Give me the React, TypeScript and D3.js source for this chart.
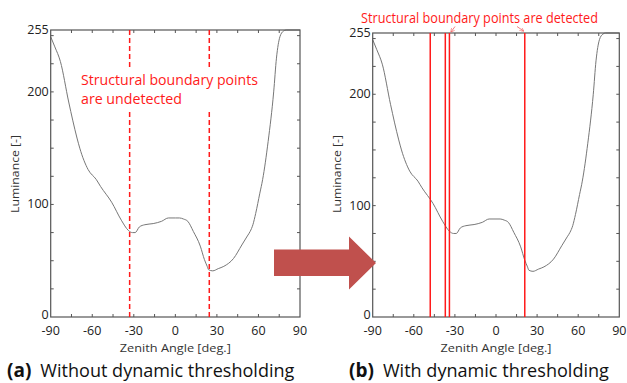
import { useEffect, useRef } from "react";
import * as d3 from "d3";

// luminance profile along the zenith angle
const angles = [-90, -87, -83, -77, -71, -69, -63, -57, -54, -46, -39, -34, -31, -29, -26, -22, -16, -10, -5, 0, 3, 6, 9, 13, 18, 21, 23, 24, 27, 31, 35, 42, 48, 52, 54, 56, 58, 61, 63, 67, 71, 73, 75.5, 78, 80, 90];
const luminance = [249, 240, 227, 191, 159, 150, 131, 122, 116, 102, 86, 77, 75, 75, 80, 82, 83, 85, 88, 88, 88, 87, 85, 76, 63, 51, 45, 42, 41, 43, 45, 52, 64, 72, 76, 82, 92, 110, 122, 156, 200, 230, 249, 254, 255, 255];

const xTickLabels = [-90, -60, -30, 0, 30, 60, 90];
const yTickLabels = [0, 100, 200, 255];

const undetected = [-33, 24.5];          // dashed lines, panel (a)
const detected = [-48, -37, -34, 21];     // solid lines, panel (b)

const RED = "#ff1a1a";
const FONT = "'Open Sans', sans-serif";

interface Box { x0: number; x1: number; y0: number; y1: number }

function drawPanel(svg: d3.Selection<SVGSVGElement, unknown, null, undefined>, b: Box) {
  const x = d3.scaleLinear().domain([-90, 90]).range([b.x0, b.x1]);
  const y = d3.scaleLinear().domain([0, 255]).range([b.y1, b.y0]);
  const g = svg.append("g");

  // minor ticks, inward, all four sides
  const tk = 3;
  for (const v of d3.range(-75, 90, 15)) {
    g.append("line").attr("x1", x(v)).attr("x2", x(v)).attr("y1", b.y1).attr("y2", b.y1 - tk).attr("stroke", "#555");
    g.append("line").attr("x1", x(v)).attr("x2", x(v)).attr("y1", b.y0).attr("y2", b.y0 + tk).attr("stroke", "#555");
  }
  for (const v of d3.range(25, 255, 25)) {
    g.append("line").attr("x1", b.x0).attr("x2", b.x0 + tk).attr("y1", y(v)).attr("y2", y(v)).attr("stroke", "#555");
    g.append("line").attr("x1", b.x1).attr("x2", b.x1 - tk).attr("y1", y(v)).attr("y2", y(v)).attr("stroke", "#555");
  }

  // tick labels
  for (const v of xTickLabels) {
    g.append("text").attr("x", x(v)).attr("y", b.y1 + 17.5)
      .attr("text-anchor", "middle").attr("font-size", 12.5).attr("font-family", FONT).attr("fill", "#222")
      .text(v);
  }
  for (const v of yTickLabels) {
    g.append("text").attr("x", b.x0 - 2).attr("y", y(v) + (v === 0 ? 2 : 4))
      .attr("text-anchor", "end").attr("font-size", 12.5).attr("font-family", FONT).attr("fill", "#222")
      .text(v);
  }

  // axis titles
  g.append("text").attr("x", (b.x0 + b.x1) / 2).attr("y", b.y1 + 35)
    .attr("text-anchor", "middle").attr("font-size", 11.5).attr("font-family", FONT).attr("fill", "#333")
    .attr("textLength", 111).attr("lengthAdjust", "spacingAndGlyphs")
    .text("Zenith Angle [deg.]");
  g.append("text").attr("transform", `translate(${b.x0 - 32},${174}) rotate(-90)`)
    .attr("text-anchor", "middle").attr("font-size", 11.5).attr("font-family", FONT).attr("fill", "#333")
    .attr("textLength", 78).attr("lengthAdjust", "spacingAndGlyphs")
    .text("Luminance [-]");

  // curve
  const line = d3.line<number>().x((_, i) => x(angles[i])).y(d => y(d)).curve(d3.curveMonotoneX);
  g.append("path").attr("d", line(luminance)).attr("fill", "none").attr("stroke", "#777").attr("stroke-width", 1);

  // frame
  g.append("rect").attr("x", b.x0).attr("y", b.y0).attr("width", b.x1 - b.x0).attr("height", b.y1 - b.y0)
    .attr("fill", "none").attr("stroke", "#555").attr("stroke-width", 1.2);

  return { g, x, y };
}

export default function App() {
  const ref = useRef<SVGSVGElement>(null);

  useEffect(() => {
    if (!ref.current) return;
    const svg = d3.select(ref.current);
    svg.selectAll("*").remove();

    // panel (a)
    const A = drawPanel(svg, { x0: 50.7, x1: 300, y0: 30, y1: 317 });
    for (const v of undetected) {
      for (const [t, bt] of [[30, 68], [112, 317]]) {
        A.g.append("line").attr("x1", A.x(v)).attr("x2", A.x(v)).attr("y1", t).attr("y2", bt)
          .attr("stroke", RED).attr("stroke-width", 1.5).attr("stroke-dasharray", "5,3");
      }
    }
    A.g.append("text").attr("x", 81).attr("y", 85).attr("font-size", 15).attr("font-family", FONT).attr("fill", RED)
      .attr("textLength", 177).attr("lengthAdjust", "spacingAndGlyphs").text("Structural boundary points");
    A.g.append("text").attr("x", 81).attr("y", 104).attr("font-size", 15).attr("font-family", FONT).attr("fill", RED)
      .attr("textLength", 101).attr("lengthAdjust", "spacingAndGlyphs").text("are undetected");

    // panel (b)
    const B = drawPanel(svg, { x0: 372.7, x1: 619.3, y0: 33, y1: 317 });
    for (const v of detected) {
      B.g.append("line").attr("x1", B.x(v)).attr("x2", B.x(v)).attr("y1", 33).attr("y2", 317)
        .attr("stroke", RED).attr("stroke-width", 1.5);
    }
    B.g.append("text").attr("x", 361).attr("y", 22.5).attr("font-size", 14).attr("font-family", FONT).attr("fill", RED)
      .attr("textLength", 237).attr("lengthAdjust", "spacingAndGlyphs").text("Structural boundary points are detected");
    // little pointer arrows
    const defs = svg.append("defs");
    defs.append("marker").attr("id", "ah").attr("viewBox", "0 0 10 10").attr("refX", 9).attr("refY", 5)
      .attr("markerWidth", 5).attr("markerHeight", 5).attr("orient", "auto")
      .append("path").attr("d", "M0,0 L10,5 L0,10").attr("fill", "none").attr("stroke", "#f06060").attr("stroke-width", 1.5);
    for (const [x1, y1, x2, y2] of [[455, 26.5, 451, 32], [517, 26.5, 523.5, 31]]) {
      B.g.append("line").attr("x1", x1).attr("y1", y1).attr("x2", x2).attr("y2", y2)
        .attr("stroke", "#f06060").attr("stroke-width", 0.8).attr("marker-end", "url(#ah)");
    }

    // big transition arrow
    svg.append("path")
      .attr("d", "M274,249.5 L349,249.5 L349,236.5 L376,263 L349,289.5 L349,276 L274,276 Z")
      .attr("fill", "#c0504d");

    // captions
    const cap = (xp: number, lab: string, rest: string, w: number) => {
      const t = svg.append("text").attr("x", xp).attr("y", 377).attr("font-size", 19).attr("font-family", FONT).attr("fill", "#111");
      t.append("tspan").attr("font-weight", 700).text(lab);
      t.append("tspan").attr("dx", 9).attr("textLength", w).attr("lengthAdjust", "spacingAndGlyphs").text(rest);
    };
    cap(7, "(a)", "Without dynamic thresholding", 254);
    cap(349, "(b)", "With dynamic thresholding", 226);
  }, []);

  return (
    <svg ref={ref} width={627} height={383}
      style={{ position: "absolute", left: 0, top: 0, background: "#fff" }} />
  );
}
